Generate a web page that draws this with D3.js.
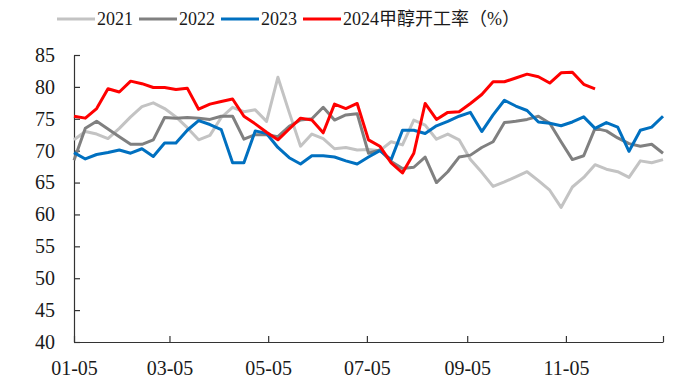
<!DOCTYPE html>
<html>
<head>
<meta charset="utf-8">
<script src="https://cdn.jsdelivr.net/npm/d3@7"></script>
<style>
  html, body { margin: 0; padding: 0; background: #fff; }
  svg { display: block; }
</style>
</head>
<body>
<svg id="chart" width="682" height="378"></svg>
<script>
// Weekly methanol operating rate (%), one series per year
const seriesNames = ["2021", "2022", "2023", "2024甲醇开工率（%）"];
const seriesColors = ["#c3c3c3", "#808080", "#0070c0", "#ff0000"];

const values2021 = [71.7, 73.0, 72.6, 71.9, 73.5, 75.3, 76.9, 77.5, 76.6, 75.3,
  73.6, 71.7, 72.4, 75.2, 76.8, 76.1, 76.4, 74.6, 81.5, 76.0,
  70.7, 72.6, 71.9, 70.3, 70.5, 70.1, 70.2, 70.0, 71.4, 70.9,
  74.8, 74.0, 71.8, 72.6, 71.7, 68.6, 66.6, 64.4, 65.1, 65.9,
  66.7, 65.3, 63.8, 61.1, 64.3, 65.8, 67.8, 67.1, 66.7, 65.8,
  68.4, 68.1, 68.6];
const values2022 = [68.5, 73.5, 74.6, 73.4, 72.2, 71.0, 71.0, 71.7, 75.2, 75.1,
  75.2, 75.1, 74.9, 75.4, 75.4, 71.8, 72.5, 72.5, 72.2, 73.8,
  74.8, 75.0, 76.8, 74.8, 75.6, 75.8, 69.6, 70.1, 68.3, 67.2,
  67.4, 69.0, 65.0, 66.7, 69.0, 69.3, 70.5, 71.4, 74.4, 74.6,
  74.9, 75.4, 74.3, 71.4, 68.6, 69.2, 73.5, 73.1, 72.0, 71.1,
  70.7, 71.0, 69.6];
const values2023 = [69.7, 68.7, 69.4, 69.7, 70.1, 69.6, 70.3, 69.1, 71.2, 71.2,
  73.2, 74.7, 74.1, 73.3, 68.1, 68.1, 73.1, 72.7, 70.5, 68.9,
  67.9, 69.2, 69.2, 69.0, 68.4, 67.9, 69.0, 70.0, 68.6, 73.2,
  73.2, 72.7, 73.9, 74.6, 75.4, 76.0, 73.0, 75.6, 77.9, 77.0,
  76.3, 74.5, 74.3, 73.9, 74.5, 75.3, 73.5, 74.4, 73.7, 69.9,
  73.2, 73.7, 75.4];
const values2024 = [75.4, 75.1, 76.6, 79.7, 79.2, 80.9, 80.5, 79.9, 79.9, 79.6,
  79.8, 76.5, 77.3, 77.7, 78.1, 75.4, 74.2, 72.9, 71.7, 73.4,
  75.1, 74.8, 72.8, 77.3, 76.6, 77.4, 71.7, 70.7, 68.1, 66.5,
  69.6, 77.4, 74.9, 76.0, 76.1, 77.4, 78.8, 80.8, 80.8, 81.4,
  82.0, 81.6, 80.6, 82.2, 82.3, 80.4, 79.7];

const xTickLabels = ["01-05", "03-05", "05-05", "07-05", "09-05", "11-05"];
const yTicks = [40, 45, 50, 55, 60, 65, 70, 75, 80, 85];

const serifFont = "'Liberation Serif', 'Times New Roman', 'Noto Sans CJK SC', serif";
const margin = { left: 74, right: 19, top: 55, bottom: 36 };
const W = 682, H = 378;
const svg = d3.select("#chart");

// Month-day positions on a common calendar year
const baseYear = 2021;
const parseMD = md => new Date(baseYear, +md.slice(0, 2) - 1, +md.slice(3));
const start = parseMD("01-05");
const end = d3.timeDay.offset(start, 364);

const x = d3.scaleTime().domain([start, end]).range([margin.left, W - margin.right]);
const y = d3.scaleLinear().domain([40, 85]).range([H - margin.bottom, margin.top]);

const weekDate = i => d3.timeDay.offset(start, 7 * i);

// Axes
const xTickDates = xTickLabels.map(parseMD).concat([end]);
const fmt = d3.timeFormat("%m-%d");
const xAxis = d3.axisBottom(x)
  .tickValues(xTickDates)
  .tickFormat(d => (+d === +end ? "" : fmt(d)))
  .tickSizeInner(-6).tickSizeOuter(0).tickPadding(19);
const gx = svg.append("g").attr("transform", `translate(0,${H - margin.bottom})`).call(xAxis);

const yAxis = d3.axisLeft(y).tickValues(yTicks)
  .tickSizeInner(-6).tickSizeOuter(0).tickPadding(19);
const gy = svg.append("g").attr("transform", `translate(${margin.left},0)`).call(yAxis);

[gx, gy].forEach(g => {
  g.attr("font-family", null).attr("font-size", null);
  g.selectAll("path.domain").attr("stroke", "#333").attr("stroke-width", 1.2);
  g.selectAll(".tick line").attr("stroke", "#333").attr("stroke-width", 1.2);
  g.selectAll(".tick text")
    .style("font-family", serifFont)
    .style("font-size", "20px")
    .attr("fill", "#1a1a1a");
});

// Lines
const allSeries = [values2021, values2022, values2023, values2024];
const line = d3.line().x((d, i) => x(weekDate(i))).y(d => y(d));
allSeries.forEach((vals, k) => {
  svg.append("path")
    .datum(vals)
    .attr("fill", "none")
    .attr("stroke", seriesColors[k])
    .attr("stroke-width", 3)
    .attr("stroke-linejoin", "round")
    .attr("d", line);
});

// Legend
const legend = svg.append("g").attr("transform", "translate(57,19)");
let lx = 0;
seriesNames.forEach((name, k) => {
  legend.append("line")
    .attr("x1", lx).attr("x2", lx + 38).attr("y1", 0).attr("y2", 0)
    .attr("stroke", seriesColors[k]).attr("stroke-width", 3);
  const t = legend.append("text")
    .attr("x", lx + 40).attr("y", 0).attr("dy", "0.36em")
    .style("font-family", serifFont)
    .style("font-size", "18px")
    .attr("fill", "#1a1a1a")
    .text(name);
  lx += 40 + t.node().getComputedTextLength() + 6;
});
</script>
</body>
</html>
